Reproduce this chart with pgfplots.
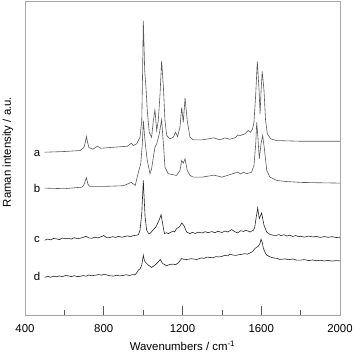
\documentclass[border=0pt]{standalone}
\usepackage{fontspec}
\setmainfont{Liberation Sans}
\usepackage{pgfplots}
\pgfplotsset{compat=1.18}

\begin{document}
\begin{tikzpicture}
\begin{axis}[
name=ax,
scale only axis,
width=315pt, height=314pt,
xmin=400, xmax=2000,
ymin=0, ymax=315,
xtick={400,800,1200,1600,2000},
minor xtick={600,1000,1400,1800},
ytick=\empty,
tick align=inside,
xtick pos=bottom,
major tick length=9pt,
minor tick length=5pt,
tick style={gray!70!black, line width=0.6pt},
axis line style={gray!70, line width=0.9pt},
every tick label/.append style={font=\fontsize{11.4}{13}\selectfont},
xticklabel style={anchor=center, yshift=-14pt},
/pgf/number format/assume math mode=true,
/pgf/number format/1000 sep={},
xlabel={Wavenumbers / cm\textsuperscript{-1}},
ylabel={Raman intensity / a.u.},
label style={font=\fontsize{11.4}{13}\selectfont},
xlabel style={at={(axis description cs:0.5,0)}, anchor=center, yshift=-31pt},
ylabel style={at={(axis description cs:-0.054,0.519)}, anchor=center},
]

% curve a
\addplot[gray!70!black, line width=0.6pt] coordinates {
(500,163.3)(600,164)(680,165)(700,168.3)(706,173)(712,179)(718,173)(725,168)(745,166.3)(768,169.3)
(785,167.3)(850,168.3)(920,169.3)(940,172.3)(950,170)(967,171.7)(984,178.3)(993,195)(997,240)
(1001,295)(1004,275)(1008,245)(1015,226.7)(1021,205)(1031,183.3)(1043,178.3)(1052,195)(1060,205.7)
(1069,185)(1077,195)(1086,221.7)(1094,255)(1103,228.3)(1111,195)(1120,180)(1136,176.7)(1153,178.3)
(1165,183.3)(1175,179)(1187,188.3)(1196,208.3)(1204,193.3)(1213,217.7)(1224,195)(1238,178.3)
(1255,175.7)(1300,175.7)(1360,177.7)(1390,175.7)(1415,177.7)(1440,176.3)(1470,178)(1480,180.7)
(1492,180)(1517,181.7)(1534,185)(1546,183.3)(1556,186.7)(1563,193.3)(1572,221.7)(1580,254.3)
(1589,225)(1594,201.7)(1599,225)(1605,244.3)(1614,225)(1622,195)(1631,181.7)(1648,176.7)
(1678,175)(1800,174.3)(2000,174.3)
};

% curve b
\addplot[gray!70!black, line width=0.6pt] coordinates {
(500,127.3)(600,126.7)(690,128.3)(700,131)(712,137.7)(720,131)(730,129)(800,129)(900,129.7)
(940,133)(960,130)(976,143.3)(988,151.7)(996,171.7)(1001,195)(1008,178.3)(1013,168.3)(1021,155)
(1035,141.7)(1043,146.7)(1052,158.3)(1060,168.3)(1069,171.7)(1082,181.7)(1094,195.7)(1103,171.7)
(1111,148.3)(1128,141.7)(1170,140)(1187,145)(1196,155)(1204,152.3)(1213,156.7)(1224,145)
(1238,140)(1255,138.3)(1300,138.3)(1360,140.3)(1400,138.3)(1480,143.3)(1495,141.5)(1510,143.3)
(1526,141.7)(1551,143.3)(1563,150)(1572,171.7)(1577,193.3)(1583,178.3)(1590,156.7)(1599,171.7)
(1607,180)(1615,168.3)(1628,145)(1644,138.3)(1678,135)(1720,134)(1800,133)(2000,132.3)
};

% curve c
\addplot[black!85, line width=0.6pt] coordinates {
(500,75)(515,76.2)(530,75.4)(545,76.8)(560,76.3)(575,75.6)(590,77.2)(605,76.4)(620,77)(635,76.2)
(650,77.6)(665,76.5)(680,77)(695,77.8)(710,79)(725,77.2)(740,77)(755,78.1)(770,77.3)(785,78.4)
(800,79.7)(815,77.6)(830,77.7)(845,78.6)(860,77.8)(875,78.9)(890,78)(905,78.6)(920,79.4)(935,78.5)
(950,79.6)(965,80)(976,80.5)(984,85)(993,101.7)(1001,135)(1005,118)(1010,98.3)(1018,85)(1027,82)
(1035,81.7)(1045,84)(1052,85.7)(1065,88.3)(1077,93.3)(1085,97)(1091,100.7)(1099,91.7)(1108,81.7)
(1118,82.5)(1128,81.7)(1140,83)(1153,84.3)(1160,83.3)(1170,86.7)(1184,88.3)(1197,92.3)(1209,89)
(1221,83.3)(1238,81.7)(1250,82.9)(1265,81.8)(1280,83.1)(1300,82.3)(1315,83.6)(1330,82.6)
(1350,83.7)(1365,82.4)(1380,84.1)(1400,82.7)(1415,84.2)(1430,83.3)(1450,85.7)(1465,83.6)
(1480,82.3)(1495,84.6)(1510,83.8)(1520,85)(1535,84.1)(1543,83.3)(1552,84.2)(1560,85)(1567,88)
(1572,95)(1582,107.3)(1590,96.7)(1602,102.3)(1614,90)(1628,83.3)(1645,80.7)(1661,80)(1675,79.8)
(1690,80.6)(1700,79.7)(1715,80.5)(1730,79.3)(1745,80.1)(1760,78.8)(1775,79.7)(1790,78.6)(1800,79)
(1820,78.1)(1840,79.2)(1860,78.3)(1880,78.9)(1900,77.8)(1920,78.7)(1940,77.9)(1960,78.6)
(1980,77.7)(2000,78)
};

% curve d
\addplot[black!85, line width=0.6pt] coordinates {
(500,37.7)(515,38.8)(530,37.9)(545,38.9)(560,38.3)(575,39.2)(590,38.4)(605,39.6)(620,39.3)
(635,38.5)(650,39.4)(665,38.6)(680,38.7)(695,39.6)(710,38.9)(725,40.1)(740,39.4)(760,40)
(775,40.6)(790,39.9)(800,41)(815,40.2)(830,39.4)(850,39)(865,39.9)(880,39.2)(900,39.7)(915,40.4)
(930,39.6)(945,40.5)(960,40.3)(976,45)(985,46.5)(993,50)(1001,60)(1005,56)(1010,53.3)(1027,50)
(1043,47.7)(1060,50)(1077,53.3)(1087,55.7)(1099,51.7)(1120,49.3)(1135,50.8)(1153,51)(1165,50.5)
(1179,52.3)(1196,56.7)(1210,55.5)(1221,55.7)(1245,56.5)(1272,55.7)(1295,57.2)(1310,56.8)
(1325,58.1)(1340,57.7)(1355,57.4)(1370,58.6)(1385,58.2)(1400,58.8)(1415,59.9)(1430,59.3)
(1440,61)(1455,60.2)(1470,59.8)(1485,60.4)(1500,60.8)(1515,61.5)(1530,61)(1543,62.3)(1555,63.5)
(1568,66.7)(1585,69)(1593,71.5)(1599,76)(1605,73)(1611,66.7)(1620,62.5)(1628,60)(1645,58.3)
(1661,57.3)(1680,56.8)(1695,55.7)(1720,56.3)(1740,55.5)(1760,56.2)(1780,55.1)(1800,55)
(1820,55.6)(1840,54.6)(1860,55.2)(1880,54.4)(1900,54.9)(1920,54.2)(1940,54.8)(1960,54.1)
(1980,54.6)(2000,54.3)
};

\node[font=\fontsize{11.4}{13}\selectfont] at (axis cs:461,162) {a};
\node[font=\fontsize{11.4}{13}\selectfont] at (axis cs:461,127) {b};
\node[font=\fontsize{11.4}{13}\selectfont] at (axis cs:461,76) {c};
\node[font=\fontsize{11.4}{13}\selectfont] at (axis cs:461,39) {d};

\end{axis}
\pgfresetboundingbox
\path[use as bounding box] ([shift={(-25pt,-38pt)}]ax.south west) rectangle ([shift={(14pt,1pt)}]ax.north east);
\end{tikzpicture}
\end{document}
